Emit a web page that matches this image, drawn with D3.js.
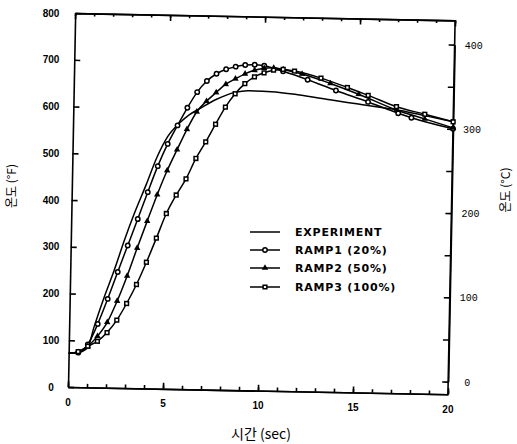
<!DOCTYPE html>
<html>
<head>
<meta charset="utf-8">
<script src="https://cdn.jsdelivr.net/npm/d3@7"></script>
<style>
  body { margin: 0; background: #fff; }
  text { fill: #000; }
</style>
</head>
<body>
<div id="chart"></div>
<script>
// values: time (sec) and temperature (deg F)
var expTime = [0, 0.5, 1.0, 1.3, 1.8, 2.3, 2.85, 3.3, 3.9, 4.45, 5.0, 5.6, 6.1, 6.7, 7.5, 8.5, 9.2, 10.4, 11.9, 13.5, 15.0, 16.3, 17.2, 18.5, 20];
var expTemp = [72, 74, 85, 128, 192, 250, 320, 372, 435, 495, 540, 569, 587, 602, 621, 637, 641, 640, 634, 625, 617, 610, 605, 595, 583];

var ramp1Time = [0, 0.5, 1, 1.5, 2, 2.5, 3, 3.5, 4, 4.5, 5, 5.5, 6, 6.5, 7, 7.5, 8, 8.5, 9, 9.5, 10, 11, 12.3, 13.8, 15.5, 17.1, 17.8, 20];
var ramp1Temp = [72, 74, 92, 136, 190, 248, 305, 362, 420, 476, 524, 564, 602, 636, 660, 676, 686, 692, 696, 697, 695, 684, 667, 645, 622, 599, 590, 568];

var ramp2Time = [0, 0.5, 1, 1.5, 2, 2.5, 3, 3.5, 4, 4.5, 5, 5.5, 6, 6.5, 7, 7.5, 8, 8.5, 9, 9.5, 10, 10.5, 11, 12, 13.5, 15, 17, 18.5, 20];
var ramp2Temp = [72, 75, 88, 110, 140, 186, 240, 300, 358, 415, 467, 512, 556, 594, 617, 636, 654, 666, 677, 685, 690, 691, 688, 679, 660, 638, 606, 588, 570];

var ramp3Time = [0, 0.5, 1, 1.5, 2, 2.5, 3, 3.5, 4, 4.5, 5, 5.5, 6, 6.5, 7, 7.5, 8, 8.5, 9, 9.5, 10, 10.5, 11, 11.6, 13, 14.4, 15.5, 17, 18.5, 20];
var ramp3Temp = [72, 76, 88, 99, 118, 145, 181, 222, 270, 322, 375, 415, 450, 494, 530, 568, 605, 634, 656, 671, 680, 686, 688, 685, 671, 652, 636, 613, 598, 583];

var xTicks = [0, 5, 10, 15, 20];
var yTicksF = [0, 100, 200, 300, 400, 500, 600, 700, 800];
var yTicksC = [0, 100, 200, 300, 400];
var legendNames = ["EXPERIMENT", "RAMP1 (20%)", "RAMP2 (50%)", "RAMP3 (100%)"];

//chart setup
var svgWidth = 517;
var svgHeight = 444;
var origin = { x: 68, y: 387 };
var tilt = 1.1;   // the scanned page is turned a little clockwise
var width = 380;
var height = 374;

var svg = d3.select("#chart")
  .append("svg")
  .attr("width", svgWidth)
  .attr("height", svgHeight);

svg.append("rect").attr("width", svgWidth).attr("height", svgHeight).attr("fill", "#fff");

var plot = svg.append("g")
  .attr("transform", `translate(${origin.x}, ${origin.y}) rotate(${tilt})`);

var x = d3.scaleLinear().domain([0, 20]).range([0, width]);
var y = d3.scaleLinear().domain([0, 800]).range([0, -height]);
var yC = d3.scaleLinear().domain([0, 400]).range([y(27), y(748)]);

// page position of a point in the turned plot frame
var rad = tilt * Math.PI / 180;
function toScreen(u, w) {
  return [origin.x + u * Math.cos(rad) - w * Math.sin(rad),
          origin.y + u * Math.sin(rad) + w * Math.cos(rad)];
}

//frame and ticks (all ticks point inward)
function styleAxis(g) {
  g.selectAll("path, line").attr("stroke", "#000").attr("stroke-width", 1.6);
}

plot.append("g")
  .call(d3.axisBottom(x).tickValues(d3.range(0, 21)).tickSize(-3.5).tickSizeOuter(0).tickFormat(""))
  .call(styleAxis);
plot.append("g")
  .call(d3.axisBottom(x).tickValues(xTicks).tickSize(-6).tickSizeOuter(0).tickFormat(""))
  .call(styleAxis);

plot.append("g")
  .attr("transform", `translate(0, ${y(800)})`)
  .call(d3.axisTop(x).tickValues(d3.range(0, 21)).tickSize(-3).tickSizeOuter(0).tickFormat(""))
  .call(styleAxis);
plot.append("g")
  .attr("transform", `translate(0, ${y(800)})`)
  .call(d3.axisTop(x).tickValues(xTicks).tickSize(-6).tickSizeOuter(0).tickFormat(""))
  .call(styleAxis);

plot.append("g")
  .call(d3.axisLeft(y).tickValues(yTicksF).tickSize(-6).tickSizeOuter(0).tickFormat(""))
  .call(styleAxis);

plot.append("g")
  .attr("transform", `translate(${width}, 0)`)
  .call(d3.axisRight(yC).tickValues(d3.range(0, 401, 50)).tickSize(-6).tickSizeOuter(0).tickFormat(""))
  .call(styleAxis);
// right border runs the full height
plot.append("line")
  .attr("x1", width).attr("x2", width)
  .attr("y1", y(0)).attr("y2", y(800))
  .attr("stroke", "#000").attr("stroke-width", 1.6);

//tick labels
svg.append("g").selectAll("text")
  .data(yTicksF)
  .enter()
  .append("text")
  .attr("x", 51)
  .attr("y", d => toScreen(0, y(d))[1] + 3.5)
  .attr("text-anchor", "middle")
  .style("font", "bold 10px 'Liberation Sans', Arial, sans-serif")
  .text(d => d);

svg.append("g").selectAll("text")
  .data(yTicksC)
  .enter()
  .append("text")
  .attr("x", d => toScreen(width, yC(d))[0] + 19)
  .attr("y", d => toScreen(width, yC(d))[1] + 4)
  .attr("text-anchor", "middle")
  .style("font", "10px 'Liberation Mono', monospace")
  .text(d => d);

svg.append("g").selectAll("text")
  .data(xTicks)
  .enter()
  .append("text")
  .attr("x", d => toScreen(x(d), 0)[0])
  .attr("y", d => toScreen(x(d), 0)[1] + 18.5)
  .attr("text-anchor", "middle")
  .style("font", "bold 10px 'Liberation Sans', Arial, sans-serif")
  .text(d => d);

//axis titles
svg.append("text")
  .attr("transform", "translate(16, 186) rotate(-90)")
  .attr("text-anchor", "middle")
  .style("font", "12px 'Noto Sans CJK KR', sans-serif")
  .text("온도 (°F)");

svg.append("text")
  .attr("transform", "translate(510, 190) rotate(-90)")
  .attr("text-anchor", "middle")
  .style("font", "12px 'Noto Sans CJK KR', sans-serif")
  .text("온도 (°C)");

svg.append("text")
  .attr("x", 261)
  .attr("y", 439)
  .attr("text-anchor", "middle")
  .style("font", "14px 'Noto Sans CJK KR', sans-serif")
  .text("시간 (sec)");

//series
var line = d3.line()
  .x(d => x(d[0]))
  .y(d => y(d[1]))
  .curve(d3.curveMonotoneX);

var series = [
  { pts: d3.zip(expTime, expTemp), marker: null },
  { pts: d3.zip(ramp1Time, ramp1Temp), marker: "circle" },
  { pts: d3.zip(ramp2Time, ramp2Temp), marker: "triangle" },
  { pts: d3.zip(ramp3Time, ramp3Temp), marker: "square" }
];

function drawMarker(g, kind) {
  if (kind === "circle") {
    g.append("circle").attr("r", 2.2)
      .attr("fill", "#fff").attr("stroke", "#000").attr("stroke-width", 1.5);
  } else if (kind === "triangle") {
    g.append("path").attr("d", d3.symbol(d3.symbolTriangle).size(18)())
      .attr("fill", "#000");
  } else if (kind === "square") {
    g.append("path").attr("d", d3.symbol(d3.symbolSquare).size(14)())
      .attr("fill", "#fff").attr("stroke", "#000").attr("stroke-width", 1.5);
  }
}

series.forEach(function(s) {
  plot.append("path")
    .datum(s.pts)
    .attr("d", line)
    .attr("fill", "none")
    .attr("stroke", "#000")
    .attr("stroke-width", 1.5);
  if (s.marker) {
    plot.append("g").selectAll("g")
      .data(s.pts.slice(1))
      .enter()
      .append("g")
      .attr("transform", d => `translate(${x(d[0])}, ${y(d[1])})`)
      .each(function() { drawMarker(d3.select(this), s.marker); });
  }
});

//legend
var legend = svg.append("g").attr("transform", "translate(250, 232)");
var rows = legend.selectAll("g")
  .data(legendNames)
  .enter()
  .append("g")
  .attr("transform", (d, i) => `translate(0, ${[0, 18, 36, 55][i]})`);

rows.append("line")
  .attr("x1", 0).attr("x2", 30)
  .attr("stroke", "#000").attr("stroke-width", 1.5);
rows.each(function(d, i) {
  var g = d3.select(this).append("g").attr("transform", "translate(15, 0)");
  drawMarker(g, series[i].marker);
});
rows.append("text")
  .attr("x", 45)
  .attr("y", 4)
  .style("font", "bold 11px 'DejaVu Sans', sans-serif")
  .style("letter-spacing", "0.8px")
  .text(d => d);
</script>
</body>
</html>
